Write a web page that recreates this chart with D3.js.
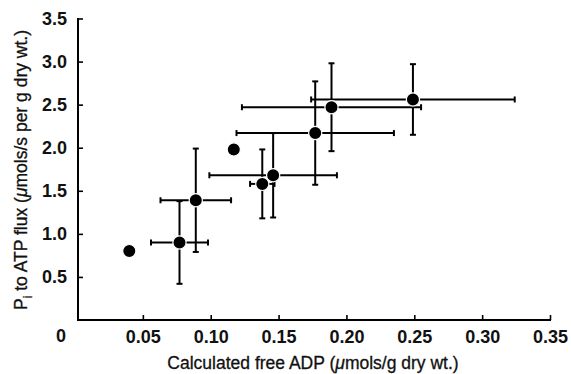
<!DOCTYPE html>
<html>
<head>
<meta charset="utf-8">
<script src="https://cdn.jsdelivr.net/npm/d3@7"></script>
<style>
html,body{margin:0;padding:0;background:#fff;}
svg{display:block;}
</style>
</head>
<body>
<svg id="chart" width="571" height="374"></svg>
<script>
// Data
const adp      = [0.040, 0.077, 0.089, 0.117, 0.138, 0.146, 0.177, 0.189, 0.249];
const adpErr   = [0,     0.021, 0.026, 0,     0.009, 0.047, 0.058, 0.066, 0.075];
const flux     = [0.80,  0.90,  1.39,  1.98,  1.58,  1.68,  2.17,  2.47,  2.56];
const fluxErr  = [0,     0.48,  0.60,  0,     0.40,  0.49,  0.60,  0.51,  0.41];
const xTicks = [0.05, 0.10, 0.15, 0.20, 0.25, 0.30, 0.35];
const yTicks = [0.5, 1.0, 1.5, 2.0, 2.5, 3.0, 3.5];

const points = adp.map((d, i) => ({x: d, xe: adpErr[i], y: flux[i], ye: fluxErr[i]}));

const svg = d3.select("#chart");
const x = d3.scaleLinear().domain([0, 0.35]).range([75, 550]);
const y = d3.scaleLinear().domain([0, 3.5]).range([320, 18.5]);
const axisX0 = 78;
const font = "'Liberation Sans', Arial, Helvetica, sans-serif";

// X axis
const gx = svg.append("g").attr("transform", `translate(0,${y(0)})`)
  .call(d3.axisBottom(x).tickValues(xTicks).tickFormat(d3.format(".2f")).tickSize(-5).tickSizeOuter(0).tickPadding(10));
gx.select(".domain").remove();
gx.selectAll(".tick line").attr("stroke", "#000").attr("stroke-width", 1.6);
gx.selectAll(".tick text").attr("font-family", font).attr("font-size", 18).attr("font-weight", "bold").attr("fill", "#111");
svg.append("line").attr("x1", axisX0 - 1).attr("x2", x(0.35) + 1).attr("y1", y(0)).attr("y2", y(0))
  .attr("stroke", "#000").attr("stroke-width", 2);

// Y axis
const gy = svg.append("g").attr("transform", `translate(${axisX0},0)`)
  .call(d3.axisLeft(y).tickValues(yTicks).tickFormat(d3.format(".1f")).tickSize(-5).tickSizeOuter(0).tickPadding(11));
gy.select(".domain").remove();
gy.selectAll(".tick line").attr("stroke", "#000").attr("stroke-width", 1.6);
gy.selectAll(".tick text").attr("font-family", font).attr("font-size", 18).attr("font-weight", "bold").attr("fill", "#111");
svg.append("line").attr("x1", axisX0).attr("x2", axisX0).attr("y1", y(0) + 1).attr("y2", y(3.5) - 0.5)
  .attr("stroke", "#000").attr("stroke-width", 2);

// Origin label
svg.append("text").attr("x", 61).attr("y", 342).attr("text-anchor", "middle")
  .attr("font-family", font).attr("font-size", 18).attr("font-weight", "bold").attr("fill", "#111").text("0");

// Axis titles
const xt = svg.append("text").attr("x", 313).attr("y", 369).attr("text-anchor", "middle")
  .attr("font-family", font).attr("font-size", 17.5).attr("fill", "#111")
  .attr("stroke", "#111").attr("stroke-width", 0.3);
xt.append("tspan").text("Calculated free ADP (");
xt.append("tspan").attr("font-style", "italic").text("\u03bc");
xt.append("tspan").text("mols/g dry wt.)");

const yt = svg.append("text").attr("transform", "translate(27,170) rotate(-90)").attr("text-anchor", "middle")
  .attr("font-family", font).attr("font-size", 17.5).attr("fill", "#111")
  .attr("stroke", "#111").attr("stroke-width", 0.3);
yt.append("tspan").text("P");
yt.append("tspan").attr("font-size", 12).attr("dy", 5).text("i");
yt.append("tspan").attr("dy", -5).text(" to ATP flux (");
yt.append("tspan").attr("font-style", "italic").text("\u03bc");
yt.append("tspan").text("mols/s per g dry wt.)");

// Error bars
const cap = 3;
const eb = svg.append("g").attr("stroke", "#000").attr("stroke-width", 2).attr("fill", "none");
points.filter(d => d.xe > 0).forEach(d => {
  eb.append("line").attr("x1", x(d.x - d.xe)).attr("x2", x(d.x + d.xe)).attr("y1", y(d.y)).attr("y2", y(d.y));
  [d.x - d.xe, d.x + d.xe].forEach(v => eb.append("line").attr("x1", x(v)).attr("x2", x(v)).attr("y1", y(d.y) - cap).attr("y2", y(d.y) + cap));
});
points.filter(d => d.ye > 0).forEach(d => {
  eb.append("line").attr("x1", x(d.x)).attr("x2", x(d.x)).attr("y1", y(d.y - d.ye)).attr("y2", y(d.y + d.ye));
  [d.y - d.ye, d.y + d.ye].forEach(v => eb.append("line").attr("x1", x(d.x) - cap).attr("x2", x(d.x) + cap).attr("y1", y(v)).attr("y2", y(v)));
});

// Points
svg.append("g").selectAll("circle").data(points).join("circle")
  .attr("cx", d => x(d.x)).attr("cy", d => y(d.y)).attr("r", 6.6)
  .attr("fill", "#000").attr("stroke", "#fff").attr("stroke-width", 1.2);
</script>
</body>
</html>
